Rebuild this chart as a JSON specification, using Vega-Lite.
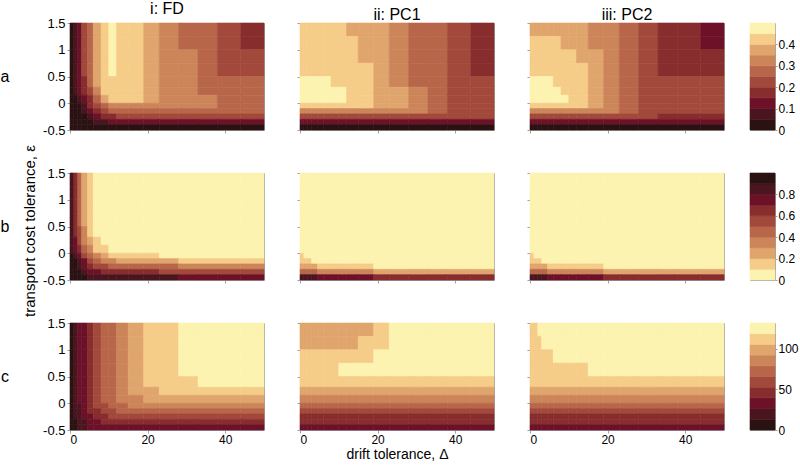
{
"$schema":"https://vega.github.io/schema/vega-lite/v6.json",
"padding":{"left":0,"top":0,"right":0,"bottom":0},
"config":{
 "font":"Liberation Sans",
 "view":{"stroke":"#a0a0a0","strokeWidth":1},
 "axis":{"domain":false,"grid":false,"tickSize":3,"tickColor":"#a0a0a0","labelFont":"Liberation Sans","labelFontSize":13,"labelColor":"#000","labelPadding":2,"titleFont":"Liberation Sans","titleFontSize":15,"titleFontWeight":"normal","titleColor":"#000","titlePadding":10},
 "title":{"font":"Liberation Sans","fontSize":16,"fontWeight":"normal","color":"#000"}
},
"title":{"text":"transport cost tolerance, ε","orient":"left","offset":-38,"fontSize":15,"anchor":"middle"},
"datasets":{
"xe":[{"i":1,"x":0,"x2":1},{"i":2,"x":1,"x2":2},{"i":3,"x":2,"x2":3},{"i":4,"x":3,"x2":4.5},{"i":5,"x":4.5,"x2":6},{"i":6,"x":6,"x2":8},{"i":7,"x":8,"x2":10},{"i":8,"x":10,"x2":12},{"i":9,"x":12,"x2":15},{"i":10,"x":15,"x2":19},{"i":11,"x":19,"x2":23},{"i":12,"x":23,"x2":28},{"i":13,"x":28,"x2":33},{"i":14,"x":33,"x2":38},{"i":15,"x":38,"x2":44},{"i":16,"x":44,"x2":50}],
"cb":[
{"r":"a","lo":0,"hi":0.05,"m":0.025},{"r":"a","lo":0.05,"hi":0.1,"m":0.075},{"r":"a","lo":0.1,"hi":0.15,"m":0.125},{"r":"a","lo":0.15,"hi":0.2,"m":0.175},{"r":"a","lo":0.2,"hi":0.25,"m":0.225},{"r":"a","lo":0.25,"hi":0.3,"m":0.275},{"r":"a","lo":0.3,"hi":0.35,"m":0.325},{"r":"a","lo":0.35,"hi":0.4,"m":0.375},{"r":"a","lo":0.4,"hi":0.45,"m":0.425},{"r":"a","lo":0.45,"hi":0.5,"m":0.475},
{"r":"b","lo":0,"hi":0.1,"m":0.05},{"r":"b","lo":0.1,"hi":0.2,"m":0.15},{"r":"b","lo":0.2,"hi":0.3,"m":0.25},{"r":"b","lo":0.3,"hi":0.4,"m":0.35},{"r":"b","lo":0.4,"hi":0.5,"m":0.45},{"r":"b","lo":0.5,"hi":0.6,"m":0.55},{"r":"b","lo":0.6,"hi":0.7,"m":0.65},{"r":"b","lo":0.7,"hi":0.8,"m":0.75},{"r":"b","lo":0.8,"hi":0.9,"m":0.85},{"r":"b","lo":0.9,"hi":1,"m":0.95},
{"r":"c","lo":0,"hi":13.2,"m":6.6},{"r":"c","lo":13.2,"hi":26.4,"m":19.8},{"r":"c","lo":26.4,"hi":39.6,"m":33},{"r":"c","lo":39.6,"hi":52.8,"m":46.2},{"r":"c","lo":52.8,"hi":66,"m":59.4},{"r":"c","lo":66,"hi":79.2,"m":72.6},{"r":"c","lo":79.2,"hi":92.4,"m":85.8},{"r":"c","lo":92.4,"hi":105.6,"m":99},{"r":"c","lo":105.6,"hi":118.8,"m":112.2},{"r":"c","lo":118.8,"hi":132,"m":125.4}
],
"grid":[
{"p":"ai","y":1.25,"y2":1.5,"v":[0.03,0.08,0.13,0.23,0.28,0.38,0.43,0.48,0.43,0.43,0.38,0.33,0.28,0.28,0.23,0.18]},
{"p":"ai","y":1,"y2":1.25,"v":[0.03,0.08,0.13,0.23,0.28,0.38,0.43,0.48,0.43,0.43,0.38,0.33,0.28,0.28,0.23,0.18]},
{"p":"ai","y":0.75,"y2":1,"v":[0.03,0.08,0.13,0.23,0.28,0.38,0.43,0.48,0.43,0.43,0.38,0.33,0.33,0.28,0.23,0.23]},
{"p":"ai","y":0.5,"y2":0.75,"v":[0.03,0.08,0.13,0.23,0.28,0.38,0.43,0.48,0.43,0.43,0.38,0.33,0.33,0.28,0.23,0.23]},
{"p":"ai","y":0.3,"y2":0.5,"v":[0.03,0.08,0.13,0.18,0.28,0.38,0.43,0.43,0.43,0.43,0.38,0.33,0.33,0.28,0.28,0.28]},
{"p":"ai","y":0.15,"y2":0.3,"v":[0.03,0.08,0.13,0.18,0.23,0.33,0.43,0.43,0.43,0.43,0.38,0.33,0.33,0.28,0.28,0.28]},
{"p":"ai","y":0,"y2":0.15,"v":[0.03,0.03,0.08,0.13,0.18,0.28,0.38,0.43,0.43,0.43,0.38,0.33,0.33,0.33,0.28,0.28]},
{"p":"ai","y":-0.1,"y2":0,"v":[0.03,0.03,0.03,0.08,0.18,0.23,0.28,0.33,0.33,0.33,0.33,0.33,0.33,0.33,0.28,0.28]},
{"p":"ai","y":-0.2,"y2":-0.1,"v":[0.03,0.03,0.03,0.08,0.13,0.18,0.23,0.28,0.28,0.28,0.28,0.28,0.28,0.28,0.28,0.28]},
{"p":"ai","y":-0.3,"y2":-0.2,"v":[0.03,0.03,0.03,0.03,0.08,0.13,0.18,0.18,0.23,0.23,0.23,0.23,0.23,0.23,0.23,0.23]},
{"p":"ai","y":-0.4,"y2":-0.3,"v":[0.03,0.03,0.03,0.03,0.03,0.08,0.08,0.13,0.13,0.13,0.13,0.13,0.13,0.13,0.13,0.13]},
{"p":"ai","y":-0.5,"y2":-0.4,"v":[0.03,0.03,0.03,0.03,0.03,0.03,0.03,0.03,0.03,0.03,0.03,0.03,0.03,0.03,0.03,0.03]},
{"p":"aii","y":1.25,"y2":1.5,"v":[0.43,0.43,0.43,0.43,0.43,0.43,0.43,0.43,0.38,0.38,0.38,0.33,0.28,0.28,0.23,0.18]},
{"p":"aii","y":1,"y2":1.25,"v":[0.43,0.43,0.43,0.43,0.43,0.43,0.43,0.43,0.43,0.38,0.38,0.33,0.28,0.28,0.23,0.18]},
{"p":"aii","y":0.75,"y2":1,"v":[0.43,0.43,0.43,0.43,0.43,0.43,0.43,0.43,0.43,0.38,0.38,0.33,0.28,0.28,0.23,0.18]},
{"p":"aii","y":0.5,"y2":0.75,"v":[0.43,0.43,0.43,0.43,0.43,0.43,0.43,0.43,0.43,0.43,0.38,0.33,0.28,0.28,0.23,0.18]},
{"p":"aii","y":0.3,"y2":0.5,"v":[0.48,0.48,0.48,0.48,0.48,0.48,0.43,0.43,0.43,0.43,0.38,0.33,0.28,0.28,0.23,0.23]},
{"p":"aii","y":0.15,"y2":0.3,"v":[0.48,0.48,0.48,0.48,0.48,0.48,0.48,0.48,0.43,0.43,0.38,0.38,0.33,0.28,0.23,0.23]},
{"p":"aii","y":0,"y2":0.15,"v":[0.48,0.48,0.48,0.48,0.48,0.48,0.48,0.48,0.43,0.43,0.38,0.38,0.33,0.28,0.23,0.23]},
{"p":"aii","y":-0.1,"y2":0,"v":[0.43,0.43,0.43,0.43,0.43,0.43,0.43,0.43,0.43,0.43,0.38,0.38,0.33,0.28,0.23,0.23]},
{"p":"aii","y":-0.2,"y2":-0.1,"v":[0.33,0.33,0.33,0.33,0.33,0.33,0.33,0.33,0.33,0.33,0.33,0.33,0.33,0.28,0.23,0.23]},
{"p":"aii","y":-0.3,"y2":-0.2,"v":[0.23,0.23,0.23,0.23,0.23,0.23,0.23,0.23,0.23,0.23,0.23,0.23,0.23,0.23,0.23,0.23]},
{"p":"aii","y":-0.4,"y2":-0.3,"v":[0.13,0.13,0.13,0.13,0.13,0.13,0.13,0.13,0.13,0.13,0.13,0.13,0.13,0.13,0.13,0.13]},
{"p":"aii","y":-0.5,"y2":-0.4,"v":[0.03,0.03,0.03,0.03,0.03,0.03,0.03,0.03,0.03,0.03,0.03,0.03,0.03,0.03,0.03,0.03]},
{"p":"aiii","y":1.25,"y2":1.5,"v":[0.38,0.38,0.38,0.38,0.38,0.38,0.38,0.38,0.38,0.33,0.33,0.28,0.23,0.18,0.18,0.13]},
{"p":"aiii","y":1,"y2":1.25,"v":[0.43,0.43,0.43,0.43,0.43,0.43,0.38,0.38,0.38,0.33,0.33,0.28,0.23,0.18,0.18,0.13]},
{"p":"aiii","y":0.75,"y2":1,"v":[0.43,0.43,0.43,0.43,0.43,0.43,0.43,0.43,0.38,0.38,0.33,0.28,0.23,0.18,0.18,0.18]},
{"p":"aiii","y":0.5,"y2":0.75,"v":[0.43,0.43,0.43,0.43,0.43,0.43,0.43,0.43,0.43,0.38,0.33,0.28,0.23,0.18,0.18,0.18]},
{"p":"aiii","y":0.3,"y2":0.5,"v":[0.48,0.48,0.48,0.48,0.48,0.43,0.43,0.43,0.43,0.38,0.33,0.28,0.23,0.23,0.23,0.23]},
{"p":"aiii","y":0.15,"y2":0.3,"v":[0.48,0.48,0.48,0.48,0.48,0.48,0.43,0.43,0.43,0.38,0.33,0.28,0.23,0.23,0.23,0.23]},
{"p":"aiii","y":0,"y2":0.15,"v":[0.48,0.48,0.48,0.48,0.48,0.48,0.48,0.43,0.43,0.38,0.33,0.28,0.23,0.23,0.23,0.23]},
{"p":"aiii","y":-0.1,"y2":0,"v":[0.43,0.43,0.43,0.43,0.43,0.43,0.43,0.43,0.43,0.38,0.33,0.28,0.23,0.23,0.23,0.23]},
{"p":"aiii","y":-0.2,"y2":-0.1,"v":[0.33,0.33,0.33,0.33,0.33,0.33,0.33,0.33,0.33,0.33,0.33,0.28,0.23,0.23,0.23,0.23]},
{"p":"aiii","y":-0.3,"y2":-0.2,"v":[0.23,0.23,0.23,0.23,0.23,0.23,0.23,0.23,0.23,0.23,0.23,0.23,0.23,0.18,0.18,0.18]},
{"p":"aiii","y":-0.4,"y2":-0.3,"v":[0.13,0.13,0.13,0.13,0.13,0.13,0.13,0.13,0.13,0.13,0.13,0.13,0.13,0.13,0.13,0.13]},
{"p":"aiii","y":-0.5,"y2":-0.4,"v":[0.03,0.03,0.03,0.03,0.03,0.03,0.03,0.03,0.03,0.03,0.03,0.03,0.03,0.03,0.03,0.03]},
{"p":"bi","y":1.25,"y2":1.5,"v":[0.85,0.65,0.45,0.25,0.15,0.05,0.05,0.05,0.05,0.05,0.05,0.05,0.05,0.05,0.05,0.05]},
{"p":"bi","y":1,"y2":1.25,"v":[0.85,0.65,0.45,0.25,0.15,0.05,0.05,0.05,0.05,0.05,0.05,0.05,0.05,0.05,0.05,0.05]},
{"p":"bi","y":0.75,"y2":1,"v":[0.85,0.65,0.45,0.25,0.15,0.05,0.05,0.05,0.05,0.05,0.05,0.05,0.05,0.05,0.05,0.05]},
{"p":"bi","y":0.5,"y2":0.75,"v":[0.85,0.65,0.45,0.25,0.15,0.05,0.05,0.05,0.05,0.05,0.05,0.05,0.05,0.05,0.05,0.05]},
{"p":"bi","y":0.3,"y2":0.5,"v":[0.85,0.65,0.55,0.35,0.15,0.05,0.05,0.05,0.05,0.05,0.05,0.05,0.05,0.05,0.05,0.05]},
{"p":"bi","y":0.15,"y2":0.3,"v":[0.85,0.75,0.55,0.35,0.25,0.15,0.05,0.05,0.05,0.05,0.05,0.05,0.05,0.05,0.05,0.05]},
{"p":"bi","y":0,"y2":0.15,"v":[0.85,0.75,0.65,0.45,0.35,0.15,0.15,0.05,0.05,0.05,0.05,0.05,0.05,0.05,0.05,0.05]},
{"p":"bi","y":-0.1,"y2":0,"v":[0.95,0.85,0.75,0.55,0.45,0.35,0.25,0.15,0.15,0.15,0.15,0.05,0.05,0.05,0.05,0.05]},
{"p":"bi","y":-0.2,"y2":-0.1,"v":[0.95,0.95,0.85,0.75,0.55,0.45,0.35,0.35,0.25,0.25,0.25,0.25,0.15,0.15,0.15,0.15]},
{"p":"bi","y":-0.3,"y2":-0.2,"v":[0.95,0.95,0.85,0.75,0.65,0.55,0.55,0.45,0.45,0.45,0.45,0.45,0.35,0.35,0.35,0.35]},
{"p":"bi","y":-0.4,"y2":-0.3,"v":[0.95,0.95,0.95,0.85,0.75,0.75,0.65,0.65,0.65,0.65,0.65,0.55,0.55,0.55,0.55,0.55]},
{"p":"bi","y":-0.5,"y2":-0.4,"v":[0.95,0.95,0.95,0.95,0.85,0.85,0.85,0.85,0.85,0.85,0.85,0.85,0.75,0.75,0.75,0.75]},
{"p":"bii","y":1.25,"y2":1.5,"v":[0.05,0.05,0.05,0.05,0.05,0.05,0.05,0.05,0.05,0.05,0.05,0.05,0.05,0.05,0.05,0.05]},
{"p":"bii","y":1,"y2":1.25,"v":[0.05,0.05,0.05,0.05,0.05,0.05,0.05,0.05,0.05,0.05,0.05,0.05,0.05,0.05,0.05,0.05]},
{"p":"bii","y":0.75,"y2":1,"v":[0.05,0.05,0.05,0.05,0.05,0.05,0.05,0.05,0.05,0.05,0.05,0.05,0.05,0.05,0.05,0.05]},
{"p":"bii","y":0.5,"y2":0.75,"v":[0.05,0.05,0.05,0.05,0.05,0.05,0.05,0.05,0.05,0.05,0.05,0.05,0.05,0.05,0.05,0.05]},
{"p":"bii","y":0.3,"y2":0.5,"v":[0.05,0.05,0.05,0.05,0.05,0.05,0.05,0.05,0.05,0.05,0.05,0.05,0.05,0.05,0.05,0.05]},
{"p":"bii","y":0.15,"y2":0.3,"v":[0.05,0.05,0.05,0.05,0.05,0.05,0.05,0.05,0.05,0.05,0.05,0.05,0.05,0.05,0.05,0.05]},
{"p":"bii","y":0,"y2":0.15,"v":[0.05,0.05,0.05,0.05,0.05,0.05,0.05,0.05,0.05,0.05,0.05,0.05,0.05,0.05,0.05,0.05]},
{"p":"bii","y":-0.1,"y2":0,"v":[0.15,0.05,0.05,0.05,0.05,0.05,0.05,0.05,0.05,0.05,0.05,0.05,0.05,0.05,0.05,0.05]},
{"p":"bii","y":-0.2,"y2":-0.1,"v":[0.15,0.15,0.15,0.05,0.05,0.05,0.05,0.05,0.05,0.05,0.05,0.05,0.05,0.05,0.05,0.05]},
{"p":"bii","y":-0.3,"y2":-0.2,"v":[0.25,0.25,0.25,0.25,0.15,0.15,0.15,0.15,0.15,0.15,0.05,0.05,0.05,0.05,0.05,0.05]},
{"p":"bii","y":-0.4,"y2":-0.3,"v":[0.45,0.45,0.45,0.45,0.35,0.35,0.35,0.35,0.35,0.35,0.25,0.25,0.25,0.25,0.25,0.25]},
{"p":"bii","y":-0.5,"y2":-0.4,"v":[0.85,0.85,0.85,0.85,0.75,0.75,0.75,0.75,0.75,0.75,0.65,0.65,0.65,0.65,0.65,0.65]},
{"p":"biii","y":1.25,"y2":1.5,"v":[0.05,0.05,0.05,0.05,0.05,0.05,0.05,0.05,0.05,0.05,0.05,0.05,0.05,0.05,0.05,0.05]},
{"p":"biii","y":1,"y2":1.25,"v":[0.05,0.05,0.05,0.05,0.05,0.05,0.05,0.05,0.05,0.05,0.05,0.05,0.05,0.05,0.05,0.05]},
{"p":"biii","y":0.75,"y2":1,"v":[0.05,0.05,0.05,0.05,0.05,0.05,0.05,0.05,0.05,0.05,0.05,0.05,0.05,0.05,0.05,0.05]},
{"p":"biii","y":0.5,"y2":0.75,"v":[0.05,0.05,0.05,0.05,0.05,0.05,0.05,0.05,0.05,0.05,0.05,0.05,0.05,0.05,0.05,0.05]},
{"p":"biii","y":0.3,"y2":0.5,"v":[0.05,0.05,0.05,0.05,0.05,0.05,0.05,0.05,0.05,0.05,0.05,0.05,0.05,0.05,0.05,0.05]},
{"p":"biii","y":0.15,"y2":0.3,"v":[0.05,0.05,0.05,0.05,0.05,0.05,0.05,0.05,0.05,0.05,0.05,0.05,0.05,0.05,0.05,0.05]},
{"p":"biii","y":0,"y2":0.15,"v":[0.05,0.05,0.05,0.05,0.05,0.05,0.05,0.05,0.05,0.05,0.05,0.05,0.05,0.05,0.05,0.05]},
{"p":"biii","y":-0.1,"y2":0,"v":[0.15,0.05,0.05,0.05,0.05,0.05,0.05,0.05,0.05,0.05,0.05,0.05,0.05,0.05,0.05,0.05]},
{"p":"biii","y":-0.2,"y2":-0.1,"v":[0.15,0.15,0.15,0.05,0.05,0.05,0.05,0.05,0.05,0.05,0.05,0.05,0.05,0.05,0.05,0.05]},
{"p":"biii","y":-0.3,"y2":-0.2,"v":[0.25,0.25,0.25,0.25,0.15,0.15,0.15,0.15,0.15,0.15,0.05,0.05,0.05,0.05,0.05,0.05]},
{"p":"biii","y":-0.4,"y2":-0.3,"v":[0.45,0.45,0.45,0.45,0.35,0.35,0.35,0.35,0.35,0.35,0.25,0.25,0.25,0.25,0.25,0.25]},
{"p":"biii","y":-0.5,"y2":-0.4,"v":[0.85,0.85,0.85,0.85,0.75,0.75,0.75,0.75,0.75,0.75,0.65,0.65,0.65,0.65,0.65,0.65]},
{"p":"ci","y":1.25,"y2":1.5,"v":[7,20,33,33,46,59,73,73,86,99,112,112,125,125,125,125]},
{"p":"ci","y":1,"y2":1.25,"v":[7,20,33,33,46,59,73,73,86,99,112,112,125,125,125,125]},
{"p":"ci","y":0.75,"y2":1,"v":[7,20,33,33,46,59,73,73,86,99,112,112,125,125,125,125]},
{"p":"ci","y":0.5,"y2":0.75,"v":[7,20,33,33,46,59,73,73,86,99,112,112,125,125,125,125]},
{"p":"ci","y":0.3,"y2":0.5,"v":[7,20,33,33,46,59,73,73,86,99,112,112,112,125,125,125]},
{"p":"ci","y":0.15,"y2":0.3,"v":[7,20,33,33,46,59,73,73,86,99,99,112,112,112,112,112]},
{"p":"ci","y":0,"y2":0.15,"v":[7,20,33,33,46,59,73,73,86,86,99,99,99,99,99,99]},
{"p":"ci","y":-0.1,"y2":0,"v":[7,20,20,33,46,59,59,73,73,86,86,86,86,86,86,86]},
{"p":"ci","y":-0.2,"y2":-0.1,"v":[7,20,20,33,46,46,59,59,73,73,73,73,73,73,73,73]},
{"p":"ci","y":-0.3,"y2":-0.2,"v":[7,20,20,33,33,46,46,59,59,59,59,59,59,59,59,59]},
{"p":"ci","y":-0.4,"y2":-0.3,"v":[7,7,20,20,33,33,46,46,46,46,46,46,46,46,46,46]},
{"p":"ci","y":-0.5,"y2":-0.4,"v":[7,7,20,20,33,33,33,33,33,33,33,33,33,33,33,33]},
{"p":"cii","y":1.25,"y2":1.5,"v":[99,99,99,99,99,99,99,99,99,99,112,125,125,125,125,125]},
{"p":"cii","y":1,"y2":1.25,"v":[99,99,99,99,99,99,99,99,99,112,112,125,125,125,125,125]},
{"p":"cii","y":0.75,"y2":1,"v":[112,112,112,112,112,112,112,112,112,112,125,125,125,125,125,125]},
{"p":"cii","y":0.5,"y2":0.75,"v":[112,112,112,112,112,112,112,125,125,125,125,125,125,125,125,125]},
{"p":"cii","y":0.3,"y2":0.5,"v":[112,112,112,112,112,112,112,112,112,112,112,112,112,112,112,112]},
{"p":"cii","y":0.15,"y2":0.3,"v":[99,99,99,99,99,99,99,99,99,99,99,99,99,99,99,99]},
{"p":"cii","y":0,"y2":0.15,"v":[86,86,86,86,86,86,86,86,86,86,86,86,86,86,86,86]},
{"p":"cii","y":-0.1,"y2":0,"v":[73,73,73,73,73,73,73,73,73,73,73,73,73,73,73,73]},
{"p":"cii","y":-0.2,"y2":-0.1,"v":[59,59,59,59,59,59,59,59,59,59,59,59,59,59,59,59]},
{"p":"cii","y":-0.3,"y2":-0.2,"v":[46,46,46,46,46,46,46,46,46,46,46,46,46,46,46,46]},
{"p":"cii","y":-0.4,"y2":-0.3,"v":[46,46,46,46,46,46,46,46,46,46,46,46,46,46,46,46]},
{"p":"cii","y":-0.5,"y2":-0.4,"v":[33,33,33,33,33,33,33,33,33,33,33,33,33,33,33,33]},
{"p":"ciii","y":1.25,"y2":1.5,"v":[112,112,125,125,125,125,125,125,125,125,125,125,125,125,125,125]},
{"p":"ciii","y":1,"y2":1.25,"v":[112,112,112,125,125,125,125,125,125,125,125,125,125,125,125,125]},
{"p":"ciii","y":0.75,"y2":1,"v":[112,112,112,112,112,125,125,125,125,125,125,125,125,125,125,125]},
{"p":"ciii","y":0.5,"y2":0.75,"v":[112,112,112,112,112,112,112,112,112,125,125,125,125,125,125,125]},
{"p":"ciii","y":0.3,"y2":0.5,"v":[112,112,112,112,112,112,112,112,112,112,112,112,112,112,112,112]},
{"p":"ciii","y":0.15,"y2":0.3,"v":[99,99,99,99,99,99,99,99,99,99,99,99,99,99,99,99]},
{"p":"ciii","y":0,"y2":0.15,"v":[86,86,86,86,86,86,86,86,86,86,86,86,86,86,86,86]},
{"p":"ciii","y":-0.1,"y2":0,"v":[73,73,73,73,73,73,73,73,73,73,73,73,73,73,73,73]},
{"p":"ciii","y":-0.2,"y2":-0.1,"v":[59,59,59,59,59,59,59,59,59,59,59,59,59,59,59,59]},
{"p":"ciii","y":-0.3,"y2":-0.2,"v":[46,46,46,46,46,46,46,46,46,46,46,46,46,46,46,46]},
{"p":"ciii","y":-0.4,"y2":-0.3,"v":[46,46,46,46,46,46,46,46,46,46,46,46,46,46,46,46]},
{"p":"ciii","y":-0.5,"y2":-0.4,"v":[33,33,33,33,33,33,33,33,33,33,33,33,33,33,33,33]}
]
},
"data":{"name":"grid"},
"transform":[
 {"flatten":["v"]},
 {"window":[{"op":"row_number","as":"i"}],"groupby":["p","y"]},
 {"lookup":"i","from":{"data":{"name":"xe"},"key":"i","fields":["x","x2"]}}
],
"resolve":{"scale":{"color":"independent","stroke":"independent"}},
"spacing":28,
"vconcat":[
{"spacing":24,"hconcat":[
 {"spacing":32,"hconcat":[
  {"width":10,"height":107,"view":{"stroke":null},"data":{"values":[{"t":"a"}]},"mark":{"type":"text","fontSize":16,"font":"Liberation Sans","color":"#000"},"encoding":{"text":{"field":"t"}}},
  {"spacing":31,"hconcat":[
  {"width":194,"height":107,"title":{"text":"i: FD","fontSize":16,"offset":0},
   "transform":[{"filter":{"field":"p","equal":"ai"}}],
   "mark":{"type":"rect","strokeWidth":0.6},
   "encoding":{
    "x":{"field":"x","type":"quantitative","scale":{"domain":[0,50],"nice":false,"zero":false},"axis":{"values":[0,20,40],"labels":false,"title":null}},
    "x2":{"field":"x2"},
    "y":{"field":"y","type":"quantitative","scale":{"domain":[-0.5,1.5],"nice":false,"zero":false},"axis":{"values":[-0.5,0,0.5,1,1.5],"format":"~g","labelExpr":"replace(datum.label,'−','-')","title":null}},
    "y2":{"field":"y2"},
    "color":{"field":"v","type":"quantitative","scale":{"type":"quantize","domain":[0,0.5],"range":["#2b1212","#4b1520","#6c1128","#882d2e","#a2493b","#b8664a","#cc8459","#e0a56c","#f5cc88","#fdf3b0"]},"legend":null},
    "stroke":{"field":"v","type":"quantitative","scale":{"type":"quantize","domain":[0,0.5],"range":["#2b1212","#4b1520","#6c1128","#882d2e","#a2493b","#b8664a","#cc8459","#e0a56c","#f5cc88","#fdf3b0"]},"legend":null}
   }},
  {"width":194,"height":107,"title":{"text":"ii: PC1","fontSize":16,"offset":0},
   "transform":[{"filter":{"field":"p","equal":"aii"}}],
   "mark":{"type":"rect","strokeWidth":0.6},
   "encoding":{
    "x":{"field":"x","type":"quantitative","scale":{"domain":[0,50],"nice":false,"zero":false},"axis":{"values":[0,20,40],"labels":false,"title":null}},
    "x2":{"field":"x2"},
    "y":{"field":"y","type":"quantitative","scale":{"domain":[-0.5,1.5],"nice":false,"zero":false},"axis":{"values":[-0.5,0,0.5,1,1.5],"labels":false,"title":null}},
    "y2":{"field":"y2"},
    "color":{"field":"v","type":"quantitative","scale":{"type":"quantize","domain":[0,0.5],"range":["#2b1212","#4b1520","#6c1128","#882d2e","#a2493b","#b8664a","#cc8459","#e0a56c","#f5cc88","#fdf3b0"]},"legend":null},
    "stroke":{"field":"v","type":"quantitative","scale":{"type":"quantize","domain":[0,0.5],"range":["#2b1212","#4b1520","#6c1128","#882d2e","#a2493b","#b8664a","#cc8459","#e0a56c","#f5cc88","#fdf3b0"]},"legend":null}
   }},
  {"width":194,"height":107,"title":{"text":"iii: PC2","fontSize":16,"offset":0},
   "transform":[{"filter":{"field":"p","equal":"aiii"}}],
   "mark":{"type":"rect","strokeWidth":0.6},
   "encoding":{
    "x":{"field":"x","type":"quantitative","scale":{"domain":[0,50],"nice":false,"zero":false},"axis":{"values":[0,20,40],"labels":false,"title":null}},
    "x2":{"field":"x2"},
    "y":{"field":"y","type":"quantitative","scale":{"domain":[-0.5,1.5],"nice":false,"zero":false},"axis":{"values":[-0.5,0,0.5,1,1.5],"labels":false,"title":null}},
    "y2":{"field":"y2"},
    "color":{"field":"v","type":"quantitative","scale":{"type":"quantize","domain":[0,0.5],"range":["#2b1212","#4b1520","#6c1128","#882d2e","#a2493b","#b8664a","#cc8459","#e0a56c","#f5cc88","#fdf3b0"]},"legend":null},
    "stroke":{"field":"v","type":"quantitative","scale":{"type":"quantize","domain":[0,0.5],"range":["#2b1212","#4b1520","#6c1128","#882d2e","#a2493b","#b8664a","#cc8459","#e0a56c","#f5cc88","#fdf3b0"]},"legend":null}
   }}
  ]}
 ]},
 {"width":25,"height":107,"data":{"name":"cb"},"transform":[{"filter":{"field":"r","equal":"a"}}],
  "mark":{"type":"rect","strokeWidth":0.6},
  "encoding":{
   "y":{"field":"lo","type":"quantitative","scale":{"domain":[0,0.5],"nice":false,"zero":false},"axis":{"orient":"right","values":[0,0.1,0.2,0.3,0.4],"format":"~g","title":null,"tickSize":2,"labelPadding":1,"labelFontSize":12}},
   "y2":{"field":"hi"},
   "color":{"field":"m","type":"quantitative","scale":{"type":"quantize","domain":[0,0.5],"range":["#2b1212","#4b1520","#6c1128","#882d2e","#a2493b","#b8664a","#cc8459","#e0a56c","#f5cc88","#fdf3b0"]},"legend":null},
   "stroke":{"field":"m","type":"quantitative","scale":{"type":"quantize","domain":[0,0.5],"range":["#2b1212","#4b1520","#6c1128","#882d2e","#a2493b","#b8664a","#cc8459","#e0a56c","#f5cc88","#fdf3b0"]},"legend":null}
  }}
]},
{"spacing":24,"hconcat":[
 {"spacing":32,"hconcat":[
  {"width":10,"height":107,"view":{"stroke":null},"data":{"values":[{"t":"b"}]},"mark":{"type":"text","fontSize":16,"font":"Liberation Sans","color":"#000"},"encoding":{"text":{"field":"t"}}},
  {"spacing":31,"hconcat":[
  {"width":194,"height":107,
   "transform":[{"filter":{"field":"p","equal":"bi"}}],
   "mark":{"type":"rect","strokeWidth":0.6},
   "encoding":{
    "x":{"field":"x","type":"quantitative","scale":{"domain":[0,50],"nice":false,"zero":false},"axis":{"values":[0,20,40],"labels":false,"title":null}},
    "x2":{"field":"x2"},
    "y":{"field":"y","type":"quantitative","scale":{"domain":[-0.5,1.5],"nice":false,"zero":false},"axis":{"values":[-0.5,0,0.5,1,1.5],"format":"~g","labelExpr":"replace(datum.label,'−','-')","title":null}},
    "y2":{"field":"y2"},
    "color":{"field":"v","type":"quantitative","scale":{"type":"quantize","domain":[0,1],"range":["#fdf3b0","#f5cc88","#e0a56c","#cc8459","#b8664a","#a2493b","#882d2e","#6c1128","#4b1520","#2b1212"]},"legend":null},
    "stroke":{"field":"v","type":"quantitative","scale":{"type":"quantize","domain":[0,1],"range":["#fdf3b0","#f5cc88","#e0a56c","#cc8459","#b8664a","#a2493b","#882d2e","#6c1128","#4b1520","#2b1212"]},"legend":null}
   }},
  {"width":194,"height":107,
   "transform":[{"filter":{"field":"p","equal":"bii"}}],
   "mark":{"type":"rect","strokeWidth":0.6},
   "encoding":{
    "x":{"field":"x","type":"quantitative","scale":{"domain":[0,50],"nice":false,"zero":false},"axis":{"values":[0,20,40],"labels":false,"title":null}},
    "x2":{"field":"x2"},
    "y":{"field":"y","type":"quantitative","scale":{"domain":[-0.5,1.5],"nice":false,"zero":false},"axis":{"values":[-0.5,0,0.5,1,1.5],"labels":false,"title":null}},
    "y2":{"field":"y2"},
    "color":{"field":"v","type":"quantitative","scale":{"type":"quantize","domain":[0,1],"range":["#fdf3b0","#f5cc88","#e0a56c","#cc8459","#b8664a","#a2493b","#882d2e","#6c1128","#4b1520","#2b1212"]},"legend":null},
    "stroke":{"field":"v","type":"quantitative","scale":{"type":"quantize","domain":[0,1],"range":["#fdf3b0","#f5cc88","#e0a56c","#cc8459","#b8664a","#a2493b","#882d2e","#6c1128","#4b1520","#2b1212"]},"legend":null}
   }},
  {"width":194,"height":107,
   "transform":[{"filter":{"field":"p","equal":"biii"}}],
   "mark":{"type":"rect","strokeWidth":0.6},
   "encoding":{
    "x":{"field":"x","type":"quantitative","scale":{"domain":[0,50],"nice":false,"zero":false},"axis":{"values":[0,20,40],"labels":false,"title":null}},
    "x2":{"field":"x2"},
    "y":{"field":"y","type":"quantitative","scale":{"domain":[-0.5,1.5],"nice":false,"zero":false},"axis":{"values":[-0.5,0,0.5,1,1.5],"labels":false,"title":null}},
    "y2":{"field":"y2"},
    "color":{"field":"v","type":"quantitative","scale":{"type":"quantize","domain":[0,1],"range":["#fdf3b0","#f5cc88","#e0a56c","#cc8459","#b8664a","#a2493b","#882d2e","#6c1128","#4b1520","#2b1212"]},"legend":null},
    "stroke":{"field":"v","type":"quantitative","scale":{"type":"quantize","domain":[0,1],"range":["#fdf3b0","#f5cc88","#e0a56c","#cc8459","#b8664a","#a2493b","#882d2e","#6c1128","#4b1520","#2b1212"]},"legend":null}
   }}
  ]}
 ]},
 {"width":25,"height":107,"data":{"name":"cb"},"transform":[{"filter":{"field":"r","equal":"b"}}],
  "mark":{"type":"rect","strokeWidth":0.6},
  "encoding":{
   "y":{"field":"lo","type":"quantitative","scale":{"domain":[0,1],"nice":false,"zero":false},"axis":{"orient":"right","values":[0,0.2,0.4,0.6,0.8],"format":"~g","title":null,"tickSize":2,"labelPadding":1,"labelFontSize":12}},
   "y2":{"field":"hi"},
   "color":{"field":"m","type":"quantitative","scale":{"type":"quantize","domain":[0,1],"range":["#fdf3b0","#f5cc88","#e0a56c","#cc8459","#b8664a","#a2493b","#882d2e","#6c1128","#4b1520","#2b1212"]},"legend":null},
   "stroke":{"field":"m","type":"quantitative","scale":{"type":"quantize","domain":[0,1],"range":["#fdf3b0","#f5cc88","#e0a56c","#cc8459","#b8664a","#a2493b","#882d2e","#6c1128","#4b1520","#2b1212"]},"legend":null}
  }}
]},
{"spacing":24,"hconcat":[
 {"spacing":32,"hconcat":[
  {"width":10,"height":107,"view":{"stroke":null},"data":{"values":[{"t":"c"}]},"mark":{"type":"text","fontSize":16,"font":"Liberation Sans","color":"#000"},"encoding":{"text":{"field":"t"}}},
  {"spacing":31,"hconcat":[
  {"width":194,"height":107,
   "transform":[{"filter":{"field":"p","equal":"ci"}}],
   "mark":{"type":"rect","strokeWidth":0.6},
   "encoding":{
    "x":{"field":"x","type":"quantitative","scale":{"domain":[0,50],"nice":false,"zero":false},"axis":{"values":[0,20,40],"format":"d","title":null,"labelPadding":1,"labelFontSize":12}},
    "x2":{"field":"x2"},
    "y":{"field":"y","type":"quantitative","scale":{"domain":[-0.5,1.5],"nice":false,"zero":false},"axis":{"values":[-0.5,0,0.5,1,1.5],"format":"~g","labelExpr":"replace(datum.label,'−','-')","title":null}},
    "y2":{"field":"y2"},
    "color":{"field":"v","type":"quantitative","scale":{"type":"quantize","domain":[0,132],"range":["#2b1212","#4b1520","#6c1128","#882d2e","#a2493b","#b8664a","#cc8459","#e0a56c","#f5cc88","#fdf3b0"]},"legend":null},
    "stroke":{"field":"v","type":"quantitative","scale":{"type":"quantize","domain":[0,132],"range":["#2b1212","#4b1520","#6c1128","#882d2e","#a2493b","#b8664a","#cc8459","#e0a56c","#f5cc88","#fdf3b0"]},"legend":null}
   }},
  {"width":194,"height":107,
   "transform":[{"filter":{"field":"p","equal":"cii"}}],
   "mark":{"type":"rect","strokeWidth":0.6},
   "encoding":{
    "x":{"field":"x","type":"quantitative","scale":{"domain":[0,50],"nice":false,"zero":false},"axis":{"values":[0,20,40],"format":"d","title":"drift tolerance, Δ","titlePadding":2,"titleFontSize":14,"labelPadding":1,"labelFontSize":12}},
    "x2":{"field":"x2"},
    "y":{"field":"y","type":"quantitative","scale":{"domain":[-0.5,1.5],"nice":false,"zero":false},"axis":{"values":[-0.5,0,0.5,1,1.5],"labels":false,"title":null}},
    "y2":{"field":"y2"},
    "color":{"field":"v","type":"quantitative","scale":{"type":"quantize","domain":[0,132],"range":["#2b1212","#4b1520","#6c1128","#882d2e","#a2493b","#b8664a","#cc8459","#e0a56c","#f5cc88","#fdf3b0"]},"legend":null},
    "stroke":{"field":"v","type":"quantitative","scale":{"type":"quantize","domain":[0,132],"range":["#2b1212","#4b1520","#6c1128","#882d2e","#a2493b","#b8664a","#cc8459","#e0a56c","#f5cc88","#fdf3b0"]},"legend":null}
   }},
  {"width":194,"height":107,
   "transform":[{"filter":{"field":"p","equal":"ciii"}}],
   "mark":{"type":"rect","strokeWidth":0.6},
   "encoding":{
    "x":{"field":"x","type":"quantitative","scale":{"domain":[0,50],"nice":false,"zero":false},"axis":{"values":[0,20,40],"format":"d","title":null,"labelPadding":1,"labelFontSize":12}},
    "x2":{"field":"x2"},
    "y":{"field":"y","type":"quantitative","scale":{"domain":[-0.5,1.5],"nice":false,"zero":false},"axis":{"values":[-0.5,0,0.5,1,1.5],"labels":false,"title":null}},
    "y2":{"field":"y2"},
    "color":{"field":"v","type":"quantitative","scale":{"type":"quantize","domain":[0,132],"range":["#2b1212","#4b1520","#6c1128","#882d2e","#a2493b","#b8664a","#cc8459","#e0a56c","#f5cc88","#fdf3b0"]},"legend":null},
    "stroke":{"field":"v","type":"quantitative","scale":{"type":"quantize","domain":[0,132],"range":["#2b1212","#4b1520","#6c1128","#882d2e","#a2493b","#b8664a","#cc8459","#e0a56c","#f5cc88","#fdf3b0"]},"legend":null}
   }}
  ]}
 ]},
 {"width":25,"height":107,"data":{"name":"cb"},"transform":[{"filter":{"field":"r","equal":"c"}}],
  "mark":{"type":"rect","strokeWidth":0.6},
  "encoding":{
   "y":{"field":"lo","type":"quantitative","scale":{"domain":[0,132],"nice":false,"zero":false},"axis":{"orient":"right","values":[0,50,100],"format":"d","title":null,"tickSize":2,"labelPadding":1,"labelFontSize":12}},
   "y2":{"field":"hi"},
   "color":{"field":"m","type":"quantitative","scale":{"type":"quantize","domain":[0,132],"range":["#2b1212","#4b1520","#6c1128","#882d2e","#a2493b","#b8664a","#cc8459","#e0a56c","#f5cc88","#fdf3b0"]},"legend":null},
   "stroke":{"field":"m","type":"quantitative","scale":{"type":"quantize","domain":[0,132],"range":["#2b1212","#4b1520","#6c1128","#882d2e","#a2493b","#b8664a","#cc8459","#e0a56c","#f5cc88","#fdf3b0"]},"legend":null}
  }}
]}
]
}
